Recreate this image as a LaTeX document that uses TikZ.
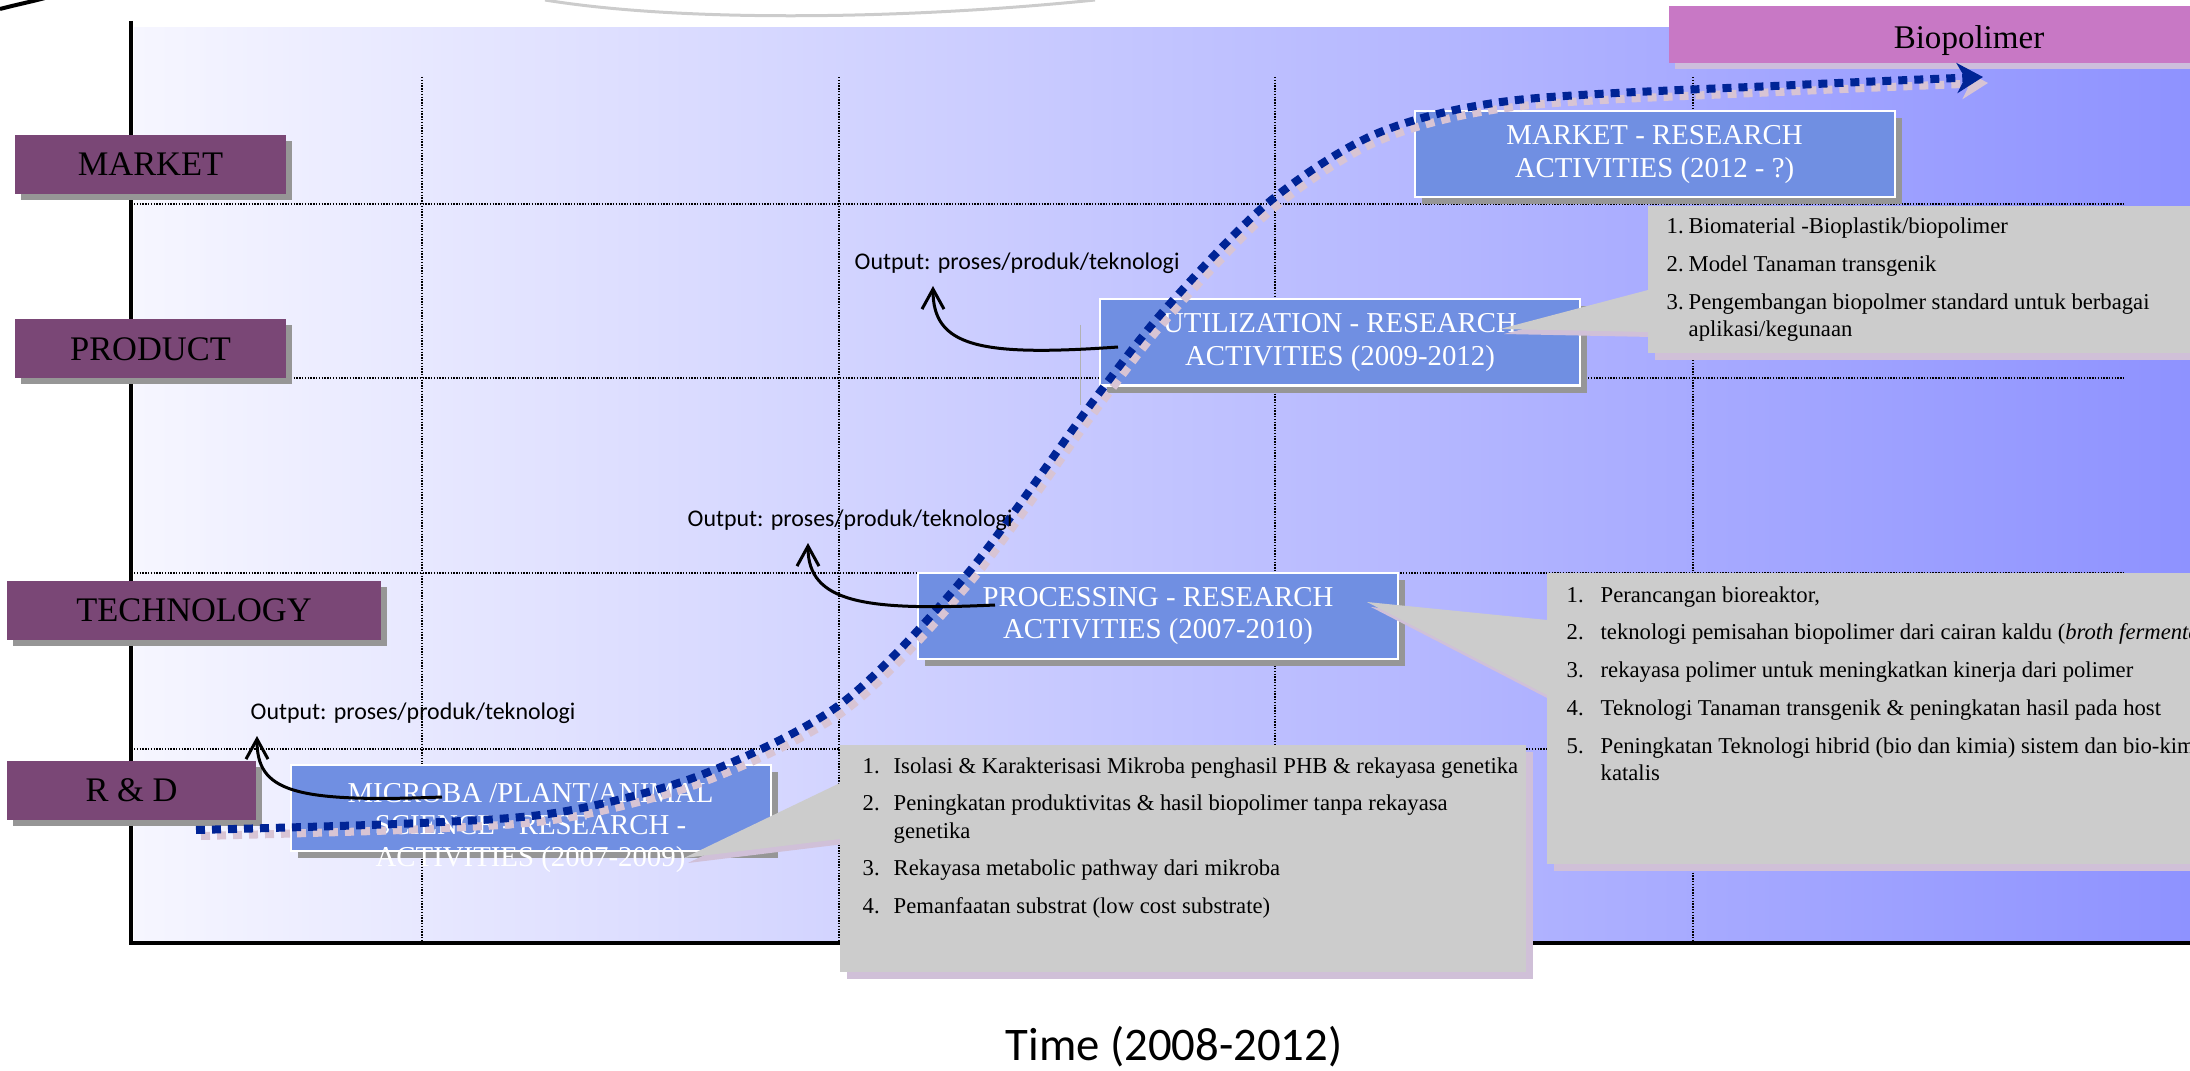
\documentclass[tikz,border=0pt]{standalone}
\usepackage{fontspec}
\setmainfont{Liberation Serif}
\newfontfamily\outfont{Carlito}
\usetikzlibrary{arrows.meta,shadows}

\definecolor{bgleft}{RGB}{246,246,255}
\definecolor{bgright}{RGB}{142,146,255}
\definecolor{rowpurple}{RGB}{122,71,118}
\definecolor{rowshadow}{RGB}{150,150,150}
\definecolor{biopink}{RGB}{200,120,197}
\definecolor{bioshadow}{RGB}{205,190,220}
\definecolor{actblue}{RGB}{112,143,226}
\definecolor{notegray}{RGB}{204,204,204}
\definecolor{noteshadow}{RGB}{208,192,216}
\definecolor{curveblue}{RGB}{0,36,150}
\definecolor{curveshadow}{RGB}{216,196,212}

\begin{document}
\begin{tikzpicture}[
  rowlabel/.style={fill=rowpurple, inner sep=0, minimum height=0.59cm,
    font=\fontsize{9.8}{11}\selectfont,
    drop shadow={shadow xshift=0.06cm, shadow yshift=-0.06cm, fill=rowshadow, opacity=1}},
  biobox/.style={fill=biopink, inner sep=0, minimum width=6cm, minimum height=0.57cm,
    font=\fontsize{9.4}{11}\selectfont,
    drop shadow={shadow xshift=0.06cm, shadow yshift=-0.06cm, fill=bioshadow, opacity=1}},
  actbox/.style={fill=actblue, draw=white, line width=0.02cm, text=white,
    minimum width=4.8cm, minimum height=0.86cm, inner sep=0, align=center,
    font=\fontsize{8.2}{9.2}\selectfont,
    drop shadow={shadow xshift=0.07cm, shadow yshift=-0.07cm, fill=rowshadow, opacity=1}},
  notebox/.style={fill=notegray, anchor=north west, inner sep=0,
    drop shadow={shadow xshift=0.07cm, shadow yshift=-0.07cm, fill=noteshadow, opacity=1}},
  notetext/.style={anchor=base west, inner sep=0, font=\fontsize{6.45}{7.7}\selectfont},
  outlabel/.style={anchor=west, inner sep=0, font=\outfont\fontsize{6.8}{8}\selectfont},
  outarrow/.style={line width=0.03cm, -{Straight Barb[length=0.2cm,width=0.22cm]}},
  gridline/.style={line width=0.016cm, dash pattern=on 0.014cm off 0.014cm},
  scurve/.style={line width=0.08cm, dash pattern=on 0.09cm off 0.07cm,
    -{Stealth[length=0.26cm,width=0.3cm,inset=0.08cm]}}
]
\useasboundingbox (0,0) rectangle (21.9,-10.71);
\clip (0,0) rectangle (21.9,-10.71);

% slide leftovers at the top
\draw[black, line width=0.04cm] (0,-0.09) .. controls (0.15,-0.05) and (0.3,-0.02) .. (0.45,0.02);
\draw[gray!40, line width=0.03cm] (5.45,0) .. controls (6.8,-0.22) and (9.0,-0.2) .. (10.95,0);

% panel, grid and axes
\shade[left color=bgleft, right color=bgright] (1.34,-0.28) rectangle (21.9,-9.43);
\foreach \x in {4.22,8.39,12.75,16.93}
  \draw[gridline] (\x,-0.77) -- (\x,-9.43);
\foreach \y in {2.04,3.78,5.73,7.49}
  \draw[gridline] (1.34,-\y) -- (21.25,-\y);
\draw[line width=0.045cm] (1.31,-0.21) -- (1.31,-9.43) -- (21.9,-9.43);

% levels
\node[rowlabel, minimum width=2.71cm] (market) at (1.505,-1.645) {MARKET};
\node[rowlabel, minimum width=2.71cm] (product) at (1.505,-3.49) {PRODUCT};
\node[rowlabel, minimum width=3.74cm] (technology) at (1.94,-6.105) {TECHNOLOGY};
\node[rowlabel, minimum width=2.49cm] (rnd) at (1.315,-7.905) {R \& D};

\node[biobox] (bio) at (19.69,-0.345) {\raisebox{-0.145cm}[0pt][0pt]{Biopolimer}};

% research activities
\node[actbox] (mkt) at (16.545,-1.545) {MARKET - RESEARCH\\ACTIVITIES (2012 - ?)};
\node[actbox] (util) at (13.40,-3.425) {UTILIZATION - RESEARCH\\ACTIVITIES (2009-2012)};
\node[actbox] (proc) at (11.58,-6.16) {PROCESSING - RESEARCH\\ACTIVITIES (2007-2010)};
\node[actbox] (micro) at (5.305,-8.08) {\raisebox{-0.27cm}[0pt][0pt]{\begin{tabular}{@{}c@{}}MICROBA /PLANT/ANIMAL\\SCIENCE - RESEARCH -\\ACTIVITIES (2007-2009)\end{tabular}}};
\draw[gray!60, line width=0.01cm] (10.80,-3.25) -- (10.80,-4.05);

% s-curve
\draw[curveshadow, scurve, shift={(0.05,-0.06)}] plot[smooth] coordinates {(1.96,-8.30) (4.21,-8.23) (5.61,-8.12) (7.01,-7.75) (8.42,-7.03) (9.68,-5.73) (10.94,-4.00) (11.67,-3.07) (12.69,-2.02) (13.78,-1.33) (15.17,-1.00) (17.95,-0.85) (19.83,-0.77)};
\draw[curveblue, scurve] plot[smooth] coordinates {(1.96,-8.30) (4.21,-8.23) (5.61,-8.12) (7.01,-7.75) (8.42,-7.03) (9.68,-5.73) (10.94,-4.00) (11.67,-3.07) (12.69,-2.02) (13.78,-1.33) (15.17,-1.00) (17.95,-0.85) (19.83,-0.77)};

% notes
\fill[noteshadow] (15.04,-3.34) -- (16.52,-2.95) -- (16.52,-3.37) -- cycle;
\fill[noteshadow] (13.71,-6.07) -- (15.51,-6.25) -- (15.51,-7.0) -- cycle;
\fill[noteshadow] (6.88,-8.63) -- (8.44,-7.88) -- (8.44,-8.44) -- cycle;
\node[notebox, minimum width=5.6cm, minimum height=1.47cm] (utilnote) at (16.47,-2.05) {};
\node[notebox, minimum width=6.6cm, minimum height=2.91cm] (procnote) at (15.46,-5.72) {};
\node[notebox, minimum width=6.86cm, minimum height=2.27cm] (rdnote) at (8.39,-7.44) {};
\fill[notegray] (15.0,-3.29) -- (16.48,-2.90) -- (16.48,-3.32) -- cycle;
\fill[notegray] (13.67,-6.02) -- (15.47,-6.20) -- (15.47,-6.95) -- cycle;
\fill[notegray] (6.84,-8.58) -- (8.40,-7.83) -- (8.40,-8.39) -- cycle;

\node[notetext] (utiltext) at ([shift={(0.19,-0.29)}]utilnote.north west) {\begin{tabular}[t]{@{}l@{\hspace{0.05cm}}l@{}}
1. & Biomaterial -Bioplastik/biopolimer\\[3.1pt]
2. & Model Tanaman transgenik\\[3.1pt]
3. & Pengembangan biopolmer standard untuk berbagai\\
   & aplikasi/kegunaan
\end{tabular}};
\node[notetext] (proctext) at ([shift={(0.20,-0.30)}]procnote.north west) {\begin{tabular}[t]{@{}l@{\hspace{0.17cm}}l@{}}
1. & Perancangan bioreaktor,\\[3.1pt]
2. & teknologi pemisahan biopolimer dari cairan kaldu (\textit{broth fermentation})\\[3.1pt]
3. & rekayasa polimer untuk meningkatkan kinerja dari polimer\\[3.1pt]
4. & Teknologi Tanaman transgenik \& peningkatan hasil pada host\\[3.1pt]
5. & Peningkatan Teknologi hibrid (bio dan kimia) sistem dan bio-kimia\\
   & katalis
\end{tabular}};
\node[notetext] (rdtext) at ([shift={(0.23,-0.29)}]rdnote.north west) {\begin{tabular}[t]{@{}l@{\hspace{0.14cm}}l@{}}
1. & Isolasi \& Karakterisasi Mikroba penghasil PHB \& rekayasa genetika\\[3.1pt]
2. & Peningkatan produktivitas \& hasil biopolimer tanpa rekayasa\\
   & genetika\\[3.1pt]
3. & Rekayasa metabolic pathway dari mikroba\\[3.1pt]
4. & Pemanfaatan substrat (low cost substrate)
\end{tabular}};

% outputs
\node[outlabel] (rdout) at (2.50,-7.13) {Output: proses/produk/teknologi};
\node[outlabel] (procout) at (6.87,-5.20) {Output: proses/produk/teknologi};
\node[outlabel] (utilout) at (8.54,-2.63) {Output: proses/produk/teknologi};
\draw[outarrow] ([shift={(-0.885,0.11)}]micro.center) .. controls +(-1.5,-0.06) and +(0,-0.55) .. ([shift={(0.07,-0.23)}]rdout.west);
\draw[outarrow] ([shift={(-1.63,0.11)}]proc.center) .. controls +(-1.3,-0.06) and +(0,-0.6) .. ([shift={(1.21,-0.23)}]procout.west);
\draw[outarrow] ([shift={(-2.22,-0.045)}]util.center) .. controls +(-1.4,-0.1) and +(0,-0.6) .. ([shift={(0.79,-0.23)}]utilout.west);

\node[font=\outfont\fontsize{13.3}{16}\selectfont] (time) at (11.74,-10.47) {Time (2008-2012)};
\end{tikzpicture}
\end{document}
